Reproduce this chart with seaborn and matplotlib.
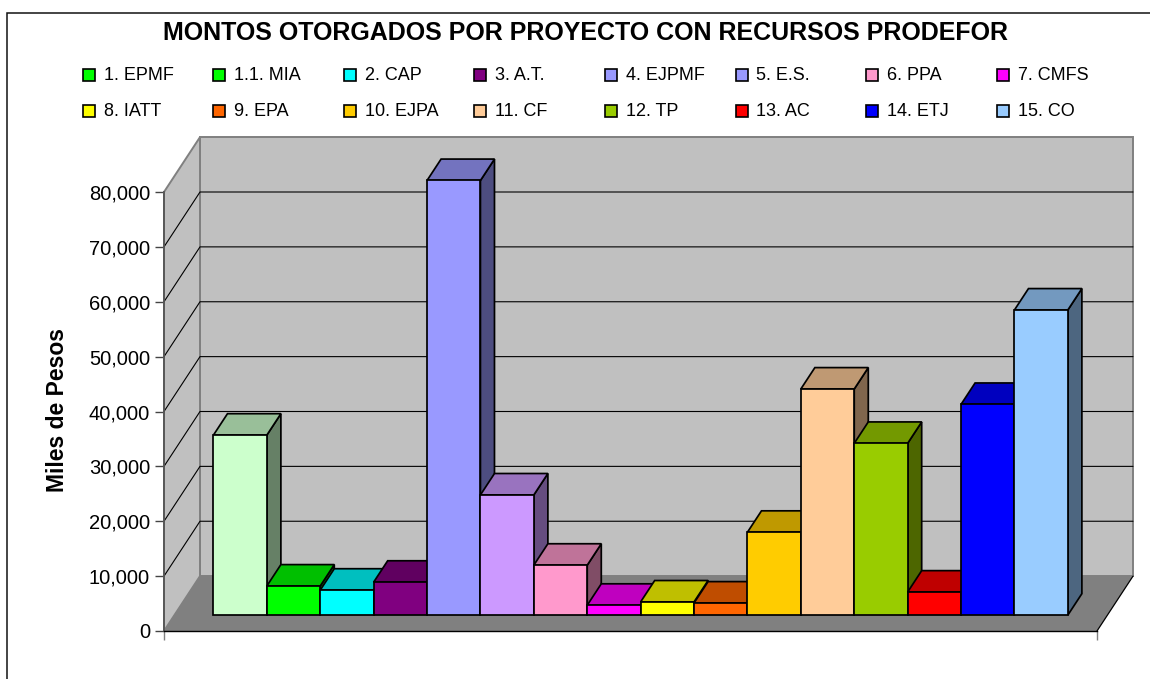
import matplotlib
matplotlib.use("Agg")
import matplotlib.pyplot as plt
from matplotlib.patches import Polygon, Rectangle
from matplotlib.transforms import Affine2D
import seaborn as sns

W, H = 1150, 679

# ---- data -------------------------------------------------------------
projects = ["1. EPMF", "1.1. MIA", "2. CAP", "3. A.T.", "4. EJPMF", "5. E.S.", "6. PPA", "7. CMFS",
            "8. IATT", "9. EPA", "10. EJPA", "11. CF", "12. TP", "13. AC", "14. ETJ", "15. CO"]
amounts = [32800, 5300, 4550, 6000, 79200, 21900, 9100, 1800,
           2400, 2200, 15100, 41200, 31300, 4200, 38400, 55600]
bar_colors = ["#CCFFCC", "#00FF00", "#00FFFF", "#800080", "#9999FF", "#CC99FF", "#FF99CC", "#FF00FF",
              "#FFFF00", "#FF6600", "#FFCC00", "#FFCC99", "#99CC00", "#FF0000", "#0000FF", "#99CCFF"]
legend_colors = ["#00FF00", "#00FF00", "#00FFFF", "#800080", "#9999FF", "#9999FF", "#FF99CC", "#FF00FF",
                 "#FFFF00", "#FF6600", "#FFCC00", "#FFCC99", "#99CC00", "#FF0000", "#0000FF", "#99CCFF"]
y_ticks = [0, 10000, 20000, 30000, 40000, 50000, 60000, 70000, 80000]
y_tick_labels = ["0", "10,000", "20,000", "30,000", "40,000", "50,000", "60,000", "70,000", "80,000"]
title_text = "MONTOS OTORGADOS POR PROYECTO CON RECURSOS PRODEFOR"
y_label = "Miles de Pesos"

# ---- style -------------------------------------------------------------
sns.set_theme(style="white")
plt.rcParams["font.family"] = ["Liberation Sans", "DejaVu Sans"]
LW = 1.25
WALL, FLOOR, EDGE = "#C0C0C0", "#808080", "#808080"


def shade(hexcolor, f):
    r, g, b = matplotlib.colors.to_rgb(hexcolor)
    return (r * f, g * f, b * f)


fig = plt.figure(figsize=(W / 100, H / 100), dpi=100, facecolor="white")
left, right, y0_px, ytop_px = 164, 1097, 631, 192
ax = fig.add_axes([left / W, 1 - y0_px / H, (right - left) / W, (y0_px - ytop_px) / H])
ax.patch.set_visible(False)

# frame of the chart area
fig.add_artist(Rectangle((6.5 / W, -0.02), 1.2, 1 - 12.5 / H + 0.02, transform=fig.transFigure,
                         fill=False, edgecolor="#111111", linewidth=1.1))

# ---- bars ---------------------------------------------------------------
sns.barplot(x=projects, y=amounts, hue=projects, palette=dict(zip(projects, bar_colors)),
            dodge=False, legend=False, width=1.0, saturation=1, edgecolor="black",
            linewidth=LW, ax=ax)

unit_px = 53.4                       # pixels per category
xmin = -0.5 - 39 / unit_px
xmax = xmin + (right - left) / unit_px
ax.set_xlim(xmin, xmax)
ax.set_ylim(0, 80000)

DX, DY = 36 / unit_px, 10000         # one unit of oblique depth, in data units
D_FRONT, D_BACK = 0.29, 0.68         # depth of the bars' front and back faces


def sh(x, y, d):
    return (x + d * DX, y + d * DY)


# ---- box: walls, floor, gridlines ------------------------------------------
top = y_ticks[-1]
ax.add_patch(Polygon([sh(xmin, 0, 1), sh(xmax, 0, 1), sh(xmax, top, 1), sh(xmin, top, 1)],
                     closed=True, facecolor=WALL, edgecolor=EDGE, linewidth=1.4, zorder=1, clip_on=False))
ax.add_patch(Polygon([sh(xmin, 0, 0), sh(xmin, 0, 1), sh(xmin, top, 1), sh(xmin, top, 0)],
                     closed=True, facecolor=WALL, edgecolor=EDGE, linewidth=1.4, zorder=1.05, clip_on=False))
ax.add_patch(Polygon([sh(xmin, 0, 0), sh(xmax, 0, 0), sh(xmax, 0, 1), sh(xmin, 0, 1)],
                     closed=True, facecolor=FLOOR, edgecolor="none", zorder=1.1, clip_on=False))
ax.plot(*zip(sh(xmax, 0, 0), sh(xmax, 0, 1)), color="black", lw=0.9, zorder=1.2, clip_on=False)
for v in y_ticks[1:-1]:
    p0, p1, p2 = sh(xmin, v, 0), sh(xmin, v, 1), sh(xmax, v, 1)
    ax.plot([p0[0], p1[0], p2[0]], [p0[1], p1[1], p2[1]], color="black", lw=0.8, zorder=1.2,
            clip_on=False, solid_joinstyle="miter")

# ---- oblique faces of the bars ----------------------------------------------
depth_shift = Affine2D().translate(D_FRONT * DX, D_FRONT * DY) + ax.transData
for i, (bar, col) in enumerate(zip(ax.patches, bar_colors)):
    x, w, h = bar.get_x(), bar.get_width(), bar.get_height()
    z = 3 + i * 0.1
    bar.set_transform(depth_shift)
    bar.set_clip_on(False)
    bar.set_zorder(z + 0.02)
    bar.set_joinstyle("miter")
    ax.add_patch(Polygon([sh(x + w, 0, D_FRONT), sh(x + w, 0, D_BACK), sh(x + w, h, D_BACK), sh(x + w, h, D_FRONT)],
                         closed=True, facecolor=shade(col, 0.5), edgecolor="black", linewidth=LW,
                         zorder=z, clip_on=False, joinstyle="miter"))
    ax.add_patch(Polygon([sh(x, h, D_FRONT), sh(x + w, h, D_FRONT), sh(x + w, h, D_BACK), sh(x, h, D_BACK)],
                         closed=True, facecolor=shade(col, 0.75), edgecolor="black", linewidth=LW,
                         zorder=z + 0.01, clip_on=False, joinstyle="miter"))

# ---- axes -------------------------------------------------------------------
sns.despine(ax=ax, top=True, right=True)
ax.spines["left"].set_color("#555555")
ax.spines["left"].set_linewidth(1.3)
ax.spines["bottom"].set_color("black")
ax.spines["bottom"].set_linewidth(1.0)
ax.spines["left"].set_zorder(2)
ax.spines["bottom"].set_zorder(2)
ax.set_yticks(y_ticks, y_tick_labels)
ax.tick_params(axis="y", left=True, length=6.5, width=1.0, color="#444444", labelsize=14.5,
               labelcolor="black", pad=3.5)
ax.set_xticks([xmin, xmax], ["", ""])
ax.tick_params(axis="x", bottom=True, length=6.5, width=1.0, color="#808080")
ax.set_xlabel("")
ax.set_ylabel("")
ax.grid(False)

fig.text(58 / W, 1 - 410 / H, y_label, rotation=90, ha="center", va="center",
         fontsize=16.5, fontweight="bold", color="black")
fig.text(585.5 / W, 1 - 33 / H, title_text, ha="center", va="center",
         fontsize=18, fontweight="bold", color="black")

# ---- legend (evenly spaced grid of swatches and labels) --------------------------
col_step, x0_leg = 130.6, 82.5
for i, (name, col) in enumerate(zip(projects, legend_colors)):
    c, r = i % 8, i // 8
    xs = x0_leg + c * col_step
    yc = 75 + r * 36
    fig.add_artist(Rectangle((xs / W, 1 - (yc + 6) / H), 12 / W, 12 / H, transform=fig.transFigure,
                             facecolor=col, edgecolor="black", linewidth=1.2))
    fig.text((xs + 21) / W, 1 - (yc + 0.5) / H, name, ha="left", va="center", fontsize=13, color="black")

fig.savefig("out.png", dpi=100)
